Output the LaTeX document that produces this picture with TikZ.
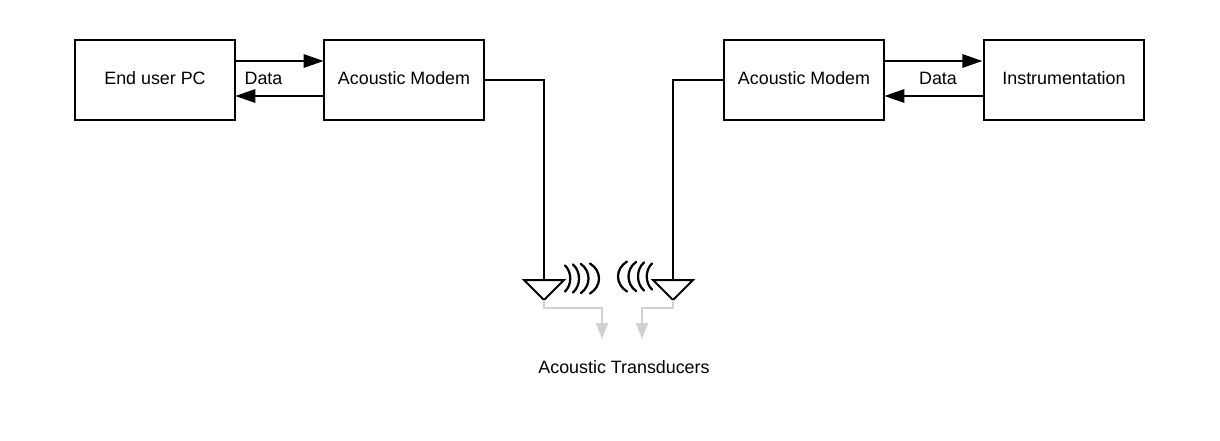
\documentclass[tikz,border=0pt]{standalone}
\usepackage{fontspec}
\setmainfont{Liberation Sans}
\usetikzlibrary{arrows.meta,positioning}
\tikzset{
  block/.style={draw,line width=1.5pt,minimum width=120pt,minimum height=60pt,inner sep=0pt,text height=10pt,text depth=4pt,font=\fontsize{13.4}{15}\selectfont},
  label/.style={inner sep=0pt,font=\fontsize{13.4}{15}\selectfont},
  wire/.style={line width=1.5pt},
  flow/.style={line width=1.5pt,-{Triangle[length=15pt,width=10pt]}},
  ghost/.style={draw=black!18,line width=1.5pt,-{Triangle[length=12pt,width=9pt,fill=black!18]}},
  wave/.style={line width=1.7pt,line cap=round}
}
\begin{document}
\begin{tikzpicture}[x=0.75pt,y=-0.75pt]
    \useasboundingbox (0,0) rectangle (1220,440);
    \node[block] (pc) at (155,80) {End user PC};
    \node[block] (modem1) at (404,80) {Acoustic Modem};
    \node[block] (modem2) at (804,80) {Acoustic Modem};
    \node[block] (instr) at (1064,80) {Instrumentation};
    \node[label] (data1) at (263.5,78) {Data};
    \node[label] (data2) at (938,78) {Data};
    \node[label] (trans) at (624,367.5) {Acoustic Transducers};

    % transducers
    \coordinate (t1) at (544,280);
    \coordinate (t2) at (673,280);
    \coordinate (tip1) at (544,300);
    \coordinate (tip2) at (673,300);
    \coordinate (g1) at (602,339);
    \coordinate (g2) at (642,339);
    \draw[wire,line join=miter] (524,280) -- (564,280) -- (tip1) -- cycle;
    \draw[wire,line join=miter] (653,280) -- (693,280) -- (tip2) -- cycle;

    \draw[flow,shorten >=-0.5pt] ([yshift=14.25pt]pc.east) -- ([yshift=14.25pt]modem1.west);
    \draw[flow,shorten >=-0.5pt] ([yshift=-12pt]modem1.west) -- ([yshift=-12pt]pc.east);
    \draw[flow,shorten >=0.5pt] ([yshift=14.25pt]modem2.east) -- ([yshift=14.25pt]instr.west);
    \draw[flow,shorten >=-0.5pt] ([yshift=-12pt]instr.west) -- ([yshift=-12pt]modem2.east);
    \draw[wire] (modem1.east) -| (t1);
    \draw[wire] (modem2.west) -| (t2);

    \draw[ghost] (tip1) |- ++(58,8) -- (g1);
    \draw[ghost] (tip2) |- ++(-31,8) -- (g2);

    % waves
    \foreach \x/\h/\b in {565/13/7,573/14/8,581/14.5/10,590/15/12}{
      \draw[wave] (\x,278.5-\h) .. controls (\x+\b,278.5-\h*0.5) and (\x+\b,278.5+\h*0.5) .. (\x,278.5+\h);
      }
    \foreach \x/\h/\b in {652/13/7,644/14/8,636/14.5/10,627/15/12}{
      \draw[wave] (\x,276.5-\h) .. controls (\x-\b,276.5-\h*0.5) and (\x-\b,276.5+\h*0.5) .. (\x,276.5+\h);
      }
\end{tikzpicture}
\end{document}
